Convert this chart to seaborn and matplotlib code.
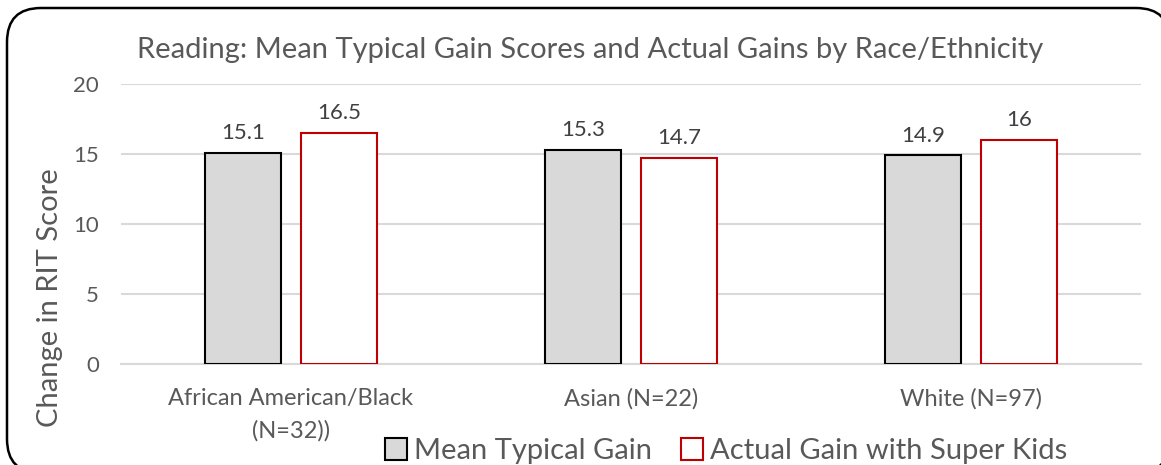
import matplotlib
matplotlib.use("Agg")
import matplotlib.pyplot as plt
import seaborn as sns
import pandas as pd
from matplotlib.patches import FancyBboxPatch, Patch
from matplotlib.transforms import IdentityTransform

# Chart data
groups = ["African American/Black\n(N=32))", "Asian (N=22)", "White (N=97)"]
series = ["Mean Typical Gain", "Actual Gain with Super Kids"]
typical_gain = [15.1, 15.3, 14.9]
actual_gain = [16.5, 14.7, 16.0]
y_ticks = [0, 5, 10, 15, 20]

TEXT = "#595959"
LABEL = "#404040"
GRID = "#d9d9d9"
FILLS = {series[0]: "#d9d9d9", series[1]: "#ffffff"}
EDGES = {series[0]: "#000000", series[1]: "#c00000"}

df = pd.DataFrame({
    "group": groups * 2,
    "gain": typical_gain + actual_gain,
    "series": [series[0]] * 3 + [series[1]] * 3,
})

sns.set_theme(style="white")
plt.rcParams["font.family"] = ["Lato", "DejaVu Sans"]

W, H = 1161, 465
fig = plt.figure(figsize=(W / 100, H / 100), dpi=100)
ax = fig.add_axes([121 / W, 1 - 364 / H, 1020 / W, 280 / H])

sns.barplot(data=df, x="group", y="gain", hue="series", order=groups,
            hue_order=series, palette=FILLS, saturation=1, width=0.565,
            gap=0.21, linewidth=1.5, legend=False, ax=ax, zorder=3)

for name, cont in zip(series, ax.containers):
    for bar in cont:
        bar.set_edgecolor(EDGES[name])
        bar.set_linewidth(1.5)
    ax.bar_label(cont, labels=[f"{b.get_height():g}" for b in cont],
                 padding=7, fontsize=16, color=LABEL)

ax.set_xlim(-0.5, 2.5)
ax.set_ylim(0, 20)
ax.set_yticks(y_ticks)
ax.set_yticklabels([str(t) for t in y_ticks])
ax.yaxis.grid(True, color=GRID, linewidth=1.5, zorder=0)
ax.set_axisbelow(True)
for side in ["top", "right", "left"]:
    ax.spines[side].set_visible(False)
ax.spines["bottom"].set_color(GRID)
ax.spines["bottom"].set_linewidth(1.5)
ax.tick_params(axis="both", length=0, labelcolor=TEXT)
ax.tick_params(axis="y", pad=16, labelsize=16)
ax.tick_params(axis="x", pad=17, labelsize=17)
for lbl in ax.get_xticklabels():
    lbl.set_linespacing(1.65)
    lbl.set_verticalalignment("top")

ax.set_xlabel("")
ax.set_ylabel("")
fig.text(50 / W, 1 - 298 / H, "Change in RIT Score", rotation=90,
         ha="center", va="center", fontsize=21, color=TEXT)

fig.text(590 / W, 1 - 50 / H, "Reading: Mean Typical Gain Scores and Actual Gains by Race/Ethnicity",
         ha="center", va="center", fontsize=21, color=TEXT)

handles = [Patch(facecolor=FILLS[s], edgecolor=EDGES[s], linewidth=1.5) for s in series]
fig.legend(handles, series, loc="center", bbox_to_anchor=(726 / W, 1 - 451 / H),
           ncol=2, frameon=False, fontsize=21, labelcolor=TEXT,
           handlelength=0.75, handleheight=0.75, handletextpad=0.25,
           columnspacing=1.0, borderaxespad=0)

# Rounded outer card behind everything, in pixel units; its right and bottom
# edges run past the canvas
frame = FancyBboxPatch((7, -8), 1170 - 7, 457 - (-8),
                       boxstyle="round,pad=0,rounding_size=34",
                       transform=IdentityTransform(), facecolor="white",
                       edgecolor="black", linewidth=1.8, zorder=-1)
fig.patches.append(frame)

fig.savefig("out.png", dpi=100)
